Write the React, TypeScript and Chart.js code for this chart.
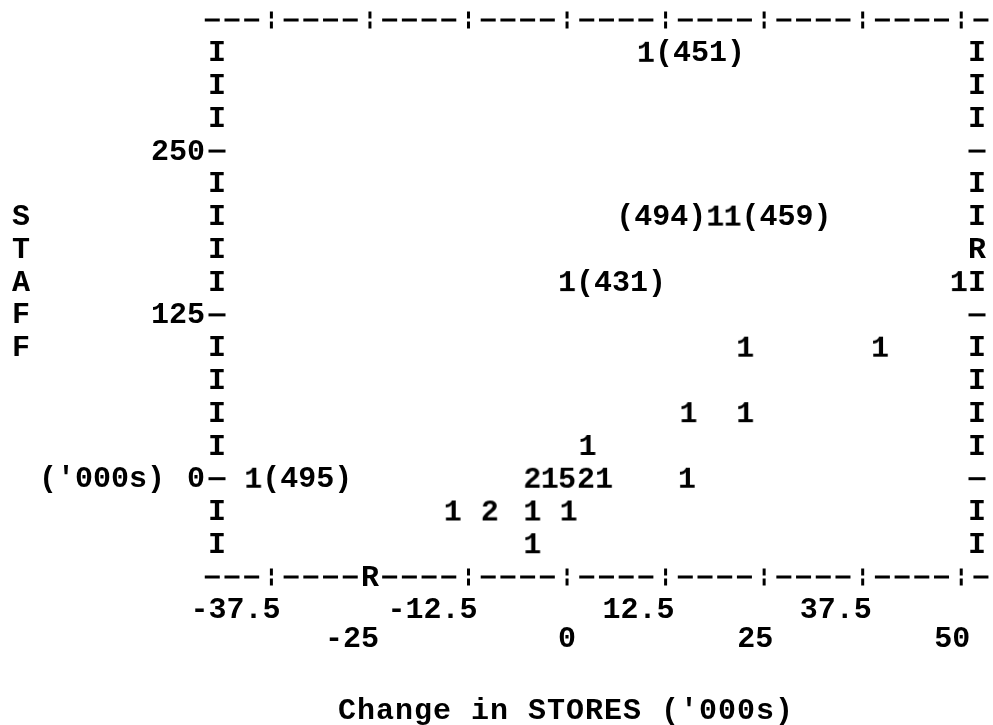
import React, { useEffect, useRef } from "react";
import { Chart, registerables } from "chart.js";
Chart.register(...registerables);

// ---- data ----
const storeChange = [10, 18.8, 21, 0, 49.7, 22.6, 39.7, 15.4, 22.6, 2.6, -39.8, -4.4, -2.2, 0, 2.4, 4.7, 15.2, -14.5, -9.8, -4.4, 0.2, -4.4];
const staff = [325, 200, 200, 150, 150, 100, 100, 50, 50, 25, 0, 0, 0, 0, 0, 0, 0, -25, -25, -25, -25, -50];
const counts = [1, 1, 1, 1, 1, 1, 1, 1, 1, 1, 1, 2, 1, 5, 2, 1, 1, 1, 2, 1, 1, 1];
const obsIds = ["451", "494", "459", "431", "", "", "", "", "", "", "495", "", "", "", "", "", "", "", "", "", "", ""];
const obsSide = ["r", "l", "r", "r", "", "", "", "", "", "", "r", "", "", "", "", "", "", "", "", "", "", ""];

const xTicks = [-37.5, -25, -12.5, 0, 12.5, 25, 37.5, 50];
const xTickLabels = ["-37.5", "-25", "-12.5", "0", "12.5", "25", "37.5", "50"];
const yTicks = [0, 125, 250];
const yTickLabels = ["0", "125", "250"];
const regressionBottomX = -25;
const regressionRightY = 175;

const xTitle = "Change in STORES ('000s)";
const yTitle = "STAFF";
const yUnits = "('000s)";

// ---- scale setup ----
const X_MIN = -44.4;
const X_MAX = 52;
const Y_MIN = -75;
const Y_MAX = 350;
const ROW_STEP = 25;

const FONT_SIZE = 30;
const FONT = `bold ${FONT_SIZE}px "Liberation Mono", "DejaVu Sans Mono", monospace`;

function makeGlyph(ch: string): HTMLCanvasElement {
  const c = document.createElement("canvas");
  c.width = 24;
  c.height = 36;
  const g = c.getContext("2d")!;
  g.font = FONT;
  g.fillStyle = "#000";
  g.textAlign = "center";
  g.textBaseline = "middle";
  g.fillText(ch, c.width / 2, c.height / 2 + 1);
  return c;
}

function brokenBar(ctx: CanvasRenderingContext2D, x: number, y: number) {
  ctx.fillRect(x - 1.5, y - 8.5, 3, 7);
  ctx.fillRect(x - 1.5, y + 1.5, 3, 7);
}

function dash(ctx: CanvasRenderingContext2D, x: number, y: number, w = 15) {
  ctx.fillRect(x - w / 2, y - 1.5, w, 3);
}

const printerPlugin = {
  id: "printer",
  beforeDatasetsDraw(chart: any) {
    const ctx: CanvasRenderingContext2D = chart.ctx;
    const xs = chart.scales.x;
    const ys = chart.scales.y;
    const area = chart.chartArea;
    ctx.save();
    ctx.fillStyle = "#000";
    ctx.font = FONT;
    ctx.textBaseline = "middle";
    ctx.textAlign = "center";
    const adv = ctx.measureText("0").width;

    const tickPx = xTicks.map((v) => xs.getPixelForValue(v));
    const step = (tickPx[1] - tickPx[0]) / 5;
    const dashes: number[] = [];
    for (let k = 3; k >= 1; k--) dashes.push(tickPx[0] - k * step);
    for (let i = 0; i < tickPx.length - 1; i++) {
      for (let k = 1; k <= 4; k++) dashes.push(tickPx[i] + k * step);
    }
    dashes.push(tickPx[tickPx.length - 1] + step);

    [area.top, area.bottom].forEach((rowY, ri) => {
      dashes.forEach((dx) => dash(ctx, dx, rowY));
      xTicks.forEach((v, i) => {
        if (ri === 1 && v === regressionBottomX) {
          ctx.fillText("R", tickPx[i], rowY + 1);
        } else {
          brokenBar(ctx, tickPx[i], rowY);
        }
      });
    });

    // side borders
    for (let v = Y_MAX - ROW_STEP; v > Y_MIN; v -= ROW_STEP) {
      const py = ys.getPixelForValue(v);
      const isTick = yTicks.includes(v);
      if (isTick) dash(ctx, area.left, py, 17);
      else ctx.fillText("I", area.left, py + 1);
      if (v === regressionRightY) ctx.fillText("R", area.right, py + 1);
      else if (isTick) dash(ctx, area.right, py, 17);
      else ctx.fillText("I", area.right, py + 1);
    }

    // y tick labels
    ctx.textAlign = "right";
    yTicks.forEach((v, i) => {
      ctx.fillText(yTickLabels[i], area.left - 12, ys.getPixelForValue(v) + 1);
    });
    ctx.fillText(yUnits, 165, ys.getPixelForValue(0) + 1);

    // x tick labels, staggered, last digit under the tick
    xTicks.forEach((v, i) => {
      const rowY = i % 2 === 0 ? 610 : 639;
      ctx.fillText(xTickLabels[i], tickPx[i] + adv / 2, rowY);
    });

    // vertical y title
    ctx.textAlign = "center";
    yTitle.split("").forEach((ch, i) => {
      ctx.fillText(ch, 21, ys.getPixelForValue(200 - i * ROW_STEP) + 1);
    });

    // x title
    (ctx as any).letterSpacing = "1px";
    ctx.fillText(xTitle, 566, 711);
    ctx.restore();
  },
  afterDatasetsDraw(chart: any) {
    const ctx: CanvasRenderingContext2D = chart.ctx;
    const xs = chart.scales.x;
    const ys = chart.scales.y;
    ctx.save();
    ctx.fillStyle = "#000";
    ctx.font = FONT;
    ctx.textBaseline = "middle";
    const adv = ctx.measureText("0").width;
    obsIds.forEach((id, i) => {
      if (!id) return;
      const px = xs.getPixelForValue(storeChange[i]);
      const py = ys.getPixelForValue(staff[i]) + 1;
      if (obsSide[i] === "l") {
        ctx.textAlign = "right";
        ctx.fillText(`(${id})`, px - adv / 2, py);
      } else {
        ctx.textAlign = "left";
        ctx.fillText(`(${id})`, px + adv / 2, py);
      }
    });
    ctx.restore();
  },
};

export default function App() {
  const ref = useRef<HTMLCanvasElement | null>(null);
  useEffect(() => {
    if (!ref.current) return;
    const glyphs: Record<string, HTMLCanvasElement> = {};
    counts.forEach((c) => {
      const k = String(c);
      if (!glyphs[k]) glyphs[k] = makeGlyph(k);
    });
    const points = storeChange.map((x, i) => ({ x, y: staff[i] }));
    const chart = new Chart(ref.current, {
      type: "scatter",
      data: {
        datasets: [
          {
            data: points,
            pointStyle: (c: any) => glyphs[String(counts[c.dataIndex])] as any,
            pointRadius: 8,
            clip: false as any,
          },
        ],
      },
      options: {
        animation: false,
        responsive: false,
        devicePixelRatio: 1,
        layout: { padding: { left: 217, right: 16, top: 20, bottom: 148 } },
        plugins: { legend: { display: false }, tooltip: { enabled: false } },
        scales: {
          x: { type: "linear", min: X_MIN, max: X_MAX, display: false },
          y: { type: "linear", min: Y_MIN, max: Y_MAX, display: false },
        },
        events: [],
      },
      plugins: [printerPlugin],
    });
    return () => chart.destroy();
  }, []);
  return (
    <div style={{ position: "absolute", left: 0, top: 0, width: 993, height: 725, background: "#fff" }}>
      <canvas ref={ref} width={993} height={725} />
    </div>
  );
}
